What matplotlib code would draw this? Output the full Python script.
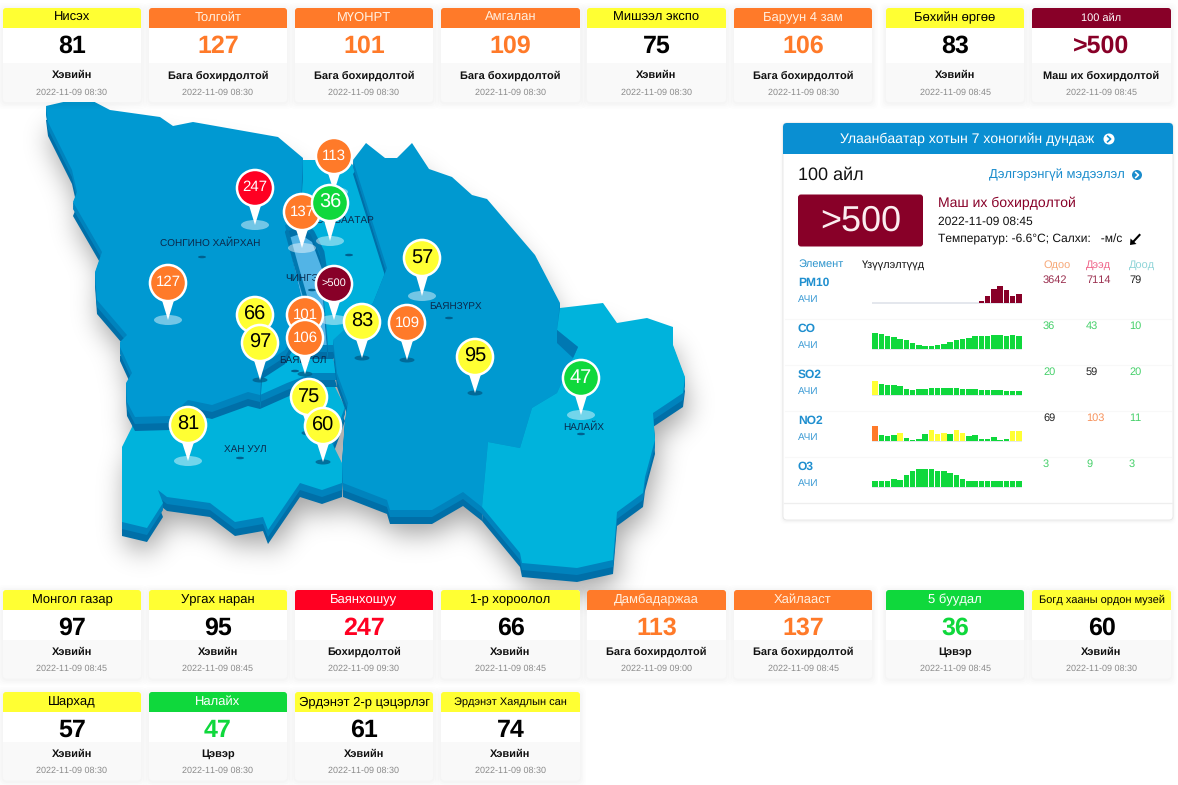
import numpy as np
import matplotlib
matplotlib.use("Agg")
import matplotlib.pyplot as plt
from matplotlib.patches import FancyBboxPatch, Rectangle, Polygon, Circle, Ellipse
from matplotlib.path import Path

plt.rcParams['font.family'] = ['Liberation Sans', 'DejaVu Sans']
plt.rcParams['text.hinting'] = 'no_hinting'
plt.rcParams['text.hinting_factor'] = 1

# ---------- station cards ----------
row1_names = ["Нисэх", "Толгойт", "МҮОНРТ", "Амгалан", "Мишээл экспо", "Баруун 4 зам", "Бөхийн өргөө", "100 айл"]
row1_values = ["81", "127", "101", "109", "75", "106", "83", ">500"]
row1_times = ["08:30", "08:30", "08:30", "08:30", "08:30", "08:30", "08:45", "08:45"]
row2_names = ["Монгол газар", "Ургах наран", "Баянхошуу", "1-р хороолол", "Дамбадаржаа", "Хайлааст", "5 буудал", "Богд хааны ордон музей"]
row2_values = ["97", "95", "247", "66", "113", "137", "36", "60"]
row2_times = ["08:45", "08:45", "09:30", "08:45", "09:00", "08:45", "08:45", "08:30"]
row3_names = ["Шархад", "Налайх", "Эрдэнэт 2-р цэцэрлэг", "Эрдэнэт Хаядлын сан"]
row3_values = ["57", "47", "61", "74"]
row3_times = ["08:30", "08:30", "08:30", "08:30"]
date_str = "2022-11-09"

# ---------- map pins: value, head x, head y, tip y, halo kind ----------
pin_values = ["247", "127", "113", "137", "36", "57", ">500", "66", "101", "97", "106", "109", "83", "95", "47", "81", "75", "60"]
pin_x = [255, 168, 334, 302, 330, 422, 334, 255, 305, 260, 305, 407, 362, 475, 581, 188, 309, 323]
pin_y = [188, 283, 156, 212, 203, 258, 284, 315, 315, 343, 338, 323, 322, 357, 378, 425, 397, 426]
pin_tip = [225, 320, 192, 248, 241, 296, 320, 351, 351, 380, 374, 360, 358, 393, 415, 461, 433, 462]
pin_halo = ["l", "l", "l", "l", "l", "l", "l", "d", "d", "d", "d", "d", "d", "d", "l", "l", "d", "d"]

# ---------- map outlines ----------
songino = [(46,106),(85,97),(110,110),(160,117),(173,126),(193,122),(278,137),(303,158),(300,220),(285,225),(293,262),(302,300),(296,330),(285,350),(262,365),(260,395),(248,392),(212,405),(188,400),(170,416),(135,417),(127,402),(126,383),(132,373),(120,347),(120,342),(127,335),(97,300),(95,272),(102,252),(73,202),(77,192),(72,170),(48,122)]
chingeltei = [(285,225),(300,220),(312,228),(322,255),(324,300),(328,345),(300,345),(302,300),(293,262)]
sukhbaatar = [(303,160),(317,160),(345,158),(353,165),(387,268),(373,303),(333,345),(328,345),(324,300),(322,255),(312,228),(300,220)]
bayangol = [(262,365),(285,350),(296,330),(328,340),(337,373),(313,373),(287,383),(260,395)]
khan_uul = [(135,417),(170,416),(188,400),(260,395),(287,383),(313,373),(333,383),(345,407),(332,443),(342,463),(342,483),(322,490),(300,483),(268,530),(263,517),(235,522),(210,503),(167,497),(158,490),(163,503),(147,528),(122,522),(122,447),(132,427)]
bayanzurkh = [(353,160),(366,143),(385,158),(397,158),(412,143),(429,169),(452,177),(472,195),(487,199),(535,255),(560,303),(557,330),(578,347),(557,393),(532,408),(520,448),(488,442),(482,507),(463,492),(432,510),(390,510),(387,500),(343,483),(342,463),(345,420),(348,403),(337,373),(333,340),(373,303),(387,268)]
nalaikh = [(560,308),(603,303),(617,323),(647,318),(673,327),(673,345),(685,377),(683,393),(653,413),(655,440),(645,477),(643,493),(617,512),(613,560),(577,568),(522,563),(520,553),(482,507),(488,442),(520,448),(532,408),(557,393),(578,347),(557,330)]
outlines = [khan_uul, bayangol, chingeltei, sukhbaatar, songino, bayanzurkh, nalaikh]
tops = ["#00b3dc", "#00b3e0", "#52b4e6", "#00b0dc", "#0099d2", "#0099d0", "#00b3dc"]
ridge = [(557,330),(578,347),(573,358),(557,343)]

label_names = ["СОНГИНО ХАЙРХАН", "БАЯНЗҮРХ", "ХАН УУЛ", "НАЛАЙХ", "СҮХБААТАР", "ЧИНГЭЛТЭЙ", "БАЯНГОЛ"]
label_x = [210.5, 455.5, 245, 584, 345, 316, 303]
label_y = [243.5, 307.5, 449.5, 427.5, 221, 278, 361.5]
dash_x = [202, 449, 240, 581, 349, 312, 295]
dash_y = [257, 318, 458, 434, 255, 290, 371]

# ---------- panel ----------
elements = ["PM10", "CO", "SO2", "NO2", "O3"]
now_vals = ["3642", "36", "20", "69", "3"]
max_vals = ["7114", "43", "59", "103", "9"]
min_vals = ["79", "10", "20", "11", "3"]
pm10_bars = [0] * 17 + [2, 7, 14, 17, 13, 7, 9]
co_bars = [16, 15, 13, 12, 10, 9, 6, 4, 3, 3, 4, 5, 7, 9, 10, 11, 13, 13, 13, 14, 14, 13, 14, 13]
so2_bars = [14, 11, 10, 10, 9, 6, 5, 6, 6, 7, 7, 7, 7, 7, 6, 6, 6, 5, 5, 5, 5, 4, 4, 4]
no2_bars = [15, 6, 5, 6, 8, 3, 1, 2, 7, 11, 7, 8, 7, 11, 8, 5, 6, 2, 2, 4, 1, 2, 10, 10]
o3_bars = [6, 6, 6, 8, 7, 12, 16, 18, 18, 18, 16, 16, 14, 12, 8, 6, 6, 6, 6, 6, 6, 6, 6, 6]
pm10_lv = "m" * 24
co_lv = "g" * 24
so2_lv = "y" + "g" * 23
no2_lv = "ogggygggg" + "yyy" + "g" + "yy" + "ggggggg" + "yy"
o3_lv = "g" * 24
series = [pm10_bars, co_bars, so2_bars, no2_bars, o3_bars]
series_lv = [pm10_lv, co_lv, so2_lv, no2_lv, o3_lv]

GREEN, YELLOW, ORANGE, RED, MAROON = "#0fd83c", "#ffff33", "#ff7a29", "#ff0022", "#880028"
LV = {"g": GREEN, "y": YELLOW, "o": ORANGE, "r": RED, "m": MAROON}
STATUS = {"g": "Цэвэр", "y": "Хэвийн", "o": "Бага бохирдолтой", "r": "Бохирдолтой", "m": "Маш их бохирдолтой"}
BLUE = "#0a8fd2"

def level(v):
    if v.startswith(">"):
        return "m"
    n = int(v)
    return "g" if n <= 50 else "y" if n <= 100 else "o" if n <= 150 else "r" if n <= 300 else "m"

W, H = 1178, 785
fig = plt.figure(figsize=(W / 100, H / 100), dpi=100, facecolor="white")
ax = fig.add_axes([0, 0, 1, 1])
ax.set_xlim(0, W); ax.set_ylim(H, 0); ax.axis("off")

# ---------- map shadow (blurred union of outlines) ----------
yy, xx = np.mgrid[0:H, 0:W]
pts = np.column_stack([xx.ravel() + 0.5, yy.ravel() + 0.5])
mask = np.zeros((H, W))
for o in outlines:
    mask = np.maximum(mask, Path(o + [o[0]]).contains_points(pts).reshape(H, W).astype(float))
mask = np.roll(mask, 24, axis=0)
mask = np.roll(mask, 3, axis=1)
ky = np.fft.fftfreq(H)[:, None]; kx = np.fft.fftfreq(W)[None, :]
sig = 13
blur = np.fft.ifft2(np.fft.fft2(mask) * np.exp(-2 * (np.pi * sig) ** 2 * (kx ** 2 + ky ** 2))).real
rgba = np.zeros((H, W, 4)); rgba[..., 3] = np.clip(blur, 0, 1) * 0.36
ax.imshow(rgba, extent=(0, W, H, 0), zorder=1, interpolation="bilinear", aspect="auto")
ax.set_xlim(0, W); ax.set_ylim(H, 0)

# ---------- map regions with extrusion ----------
def extrude(o, z):
    a = np.array(o, float)
    ax.add_patch(Polygon(a + [0, 14], closed=True, fc="#006fa8", ec="none", zorder=z))
    for dy in (1.5, 3, 4.5, 6, 7):
        ax.add_patch(Polygon(a + [0, dy], closed=True, fc="#0083bd", ec="none", zorder=z + 0.1))

z = 2
for o, c in zip(outlines[:5], tops[:5]):
    extrude(o, z)
    ax.add_patch(Polygon(o, closed=True, fc=c, ec="none", zorder=z + 0.2))
    z += 1
extrude(outlines[5], z); z += 0.5
extrude(outlines[6], z); z += 0.5
ax.add_patch(Polygon(outlines[5], closed=True, fc=tops[5], ec="none", zorder=z))
ax.add_patch(Polygon(outlines[6], closed=True, fc=tops[6], ec="none", zorder=z))
z += 1
ax.add_patch(Polygon(ridge, closed=True, fc="#0078b2", ec="none", zorder=z))
ax.plot([287, 296, 306], [232, 265, 300], color="#0078b0", lw=3, zorder=z, solid_capstyle="round")
ax.plot([312, 322, 325], [232, 252, 272], color="#0078b0", lw=3.5, zorder=z, solid_capstyle="round")
z += 1
for name, x, y, dx, dy in zip(label_names, label_x, label_y, dash_x, dash_y):
    ax.text(x, y, name, fontsize=6.9, color="#0a2a4d", ha="center", va="center", zorder=z)
    ax.add_patch(Ellipse((dx, dy), 8, 2.5, fc="#00608f", ec="none", zorder=z))
z += 1

# ---------- pins ----------
for v, x, y, t, hl in zip(pin_values, pin_x, pin_y, pin_tip, pin_halo):
    lv = level(v)
    if hl == "l":
        ax.add_patch(Ellipse((x, t), 28, 10, fc="white", alpha=0.45, ec="none", zorder=z))
    else:
        ax.add_patch(Ellipse((x, t), 15, 5, fc="#005f8c", alpha=0.8, ec="none", zorder=z))
    ax.add_patch(Polygon([(x - 7, y + 14), (x + 7, y + 14), (x, t)], closed=True, fc="white", ec="none", zorder=z + .1))
    ax.add_patch(Circle((x, y), 19.3, fc="white", ec="none", zorder=z + .2))
    ax.add_patch(Circle((x, y), 16.8, fc=LV[lv], ec="none", zorder=z + .3))
    short = len(v) == 2
    col = "black" if lv == "y" else "white"
    fs = 8 if v.startswith(">") else (14.5 if short else 11)
    ax.text(x, y - 0.5, v, fontsize=fs, color=col, ha="center", va="center", zorder=z + .4)
    z += 1
z += 1

# ---------- cards ----------
card_x0 = [3, 149, 295, 441, 587, 734, 886, 1032]
card_x1 = [141, 287, 433, 580, 726, 872, 1024, 1171]

def card(i, top, height, foot, name, value, tm, name_fs=9.6, st_off=12.0, tm_off=16.5):
    x0, x1 = card_x0[i], card_x1[i]
    w = x1 - x0
    lv = level(value)
    for g, a in zip((6, 4.5, 3, 1.5), (0.006, 0.008, 0.01, 0.012)):
        ax.add_patch(FancyBboxPatch((x0 - g, top - g + 1), w + 2 * g, height + 2 * g, boxstyle="round,pad=0,rounding_size=6",
                                    fc="black", alpha=a, ec="none", zorder=z))
    ax.add_patch(FancyBboxPatch((x0, top), w, height, boxstyle="round,pad=0,rounding_size=3", fc="#f9f9f9", ec="none", zorder=z + .1))
    ax.add_patch(Rectangle((x0, top + 12), w, foot - 12, fc="white", ec="none", zorder=z + .2))
    ax.add_patch(FancyBboxPatch((x0, top), w, 19.5, boxstyle="round,pad=0,rounding_size=3", fc=LV[lv], ec="none", zorder=z + .3))
    ax.add_patch(Rectangle((x0, top + 8), w, 11.5, fc=LV[lv], ec="none", zorder=z + .3))
    name_col = "black" if lv == "y" else ("#fff0e0" if lv == "o" else "white")
    ax.text((x0 + x1) / 2, top + 10, name, fontsize=name_fs, color=name_col, ha="center", va="center", zorder=z + .4)
    val_col = "black" if lv == "y" else LV[lv]
    ax.text((x0 + x1) / 2, top + 38.5, value, fontsize=18, fontweight="bold", color=val_col, ha="center", va="center", zorder=z + .4)
    yy1 = top + foot + st_off
    ax.text((x0 + x1) / 2, yy1, STATUS[lv], fontsize=8, fontweight="bold", color="#111111", ha="center", va="center", zorder=z + .4)
    ax.text((x0 + x1) / 2, yy1 + tm_off, f"{date_str} {tm}", fontsize=6.7, color="#8a8a8a", ha="center", va="center", zorder=z + .4)

for i in range(8):
    card(i, 8, 94, 55, row1_names[i], row1_values[i], row1_times[i], name_fs=8 if row1_names[i] == "100 айл" else 9.6, st_off=12.5, tm_off=17)
for i in range(8):
    card(i, 590, 88.5, 50, row2_names[i], row2_values[i], row2_times[i], name_fs=8 if len(row2_names[i]) > 20 else 9.6, tm_off=17)
for i in range(4):
    card(i, 692, 88.5, 50, row3_names[i], row3_values[i], row3_times[i], name_fs=8 if i == 3 else 9.6, tm_off=17)

# ---------- panel ----------
px0, px1, py0, py1 = 783, 1173, 123, 520
for g, a in zip((3, 2, 1), (0.008, 0.012, 0.02)):
    ax.add_patch(FancyBboxPatch((px0 - g, py0 - g + 1), px1 - px0 + 2 * g, py1 - py0 + 2 * g, boxstyle="round,pad=0,rounding_size=5",
                                fc="black", alpha=a, ec="none", zorder=z))
ax.add_patch(FancyBboxPatch((px0, py0), px1 - px0, py1 - py0, boxstyle="round,pad=0,rounding_size=4", fc="white", ec="#e6e6e6", lw=0.6, zorder=z + .1))
ax.add_patch(FancyBboxPatch((px0, py0), px1 - px0, 31, boxstyle="round,pad=0,rounding_size=4", fc=BLUE, ec="none", zorder=z + .2))
ax.add_patch(Rectangle((px0, py0 + 10), px1 - px0, 21, fc=BLUE, ec="none", zorder=z + .2))
tz = z + .5

def chevron(cx, cy, r, bg, fg):
    ax.add_patch(Circle((cx, cy), r, fc=bg, ec="none", zorder=tz))
    ax.plot([cx - r * .25, cx + r * .3, cx - r * .25], [cy - r * .5, cy, cy + r * .5], color=fg, lw=1.2, zorder=tz + .1)

ax.text(840, 139, "Улаанбаатар хотын 7 хоногийн дундаж", fontsize=10.4, color="white", va="center", zorder=tz)
chevron(1109, 139, 5.5, "white", BLUE)
ax.text(798, 175, "100 айл", fontsize=13, color="#111111", va="center", zorder=tz)
ax.text(989, 175, "Дэлгэрэнгүй мэдээлэл", fontsize=9.7, color="#1a8ccc", va="center", zorder=tz)
chevron(1137, 175, 5, "#1a8ccc", "white")
ax.add_patch(FancyBboxPatch((798, 194.5), 125, 52, boxstyle="round,pad=0,rounding_size=3", fc=MAROON, ec="none", zorder=tz))
ax.text(860.5, 221, ">500", fontsize=26, color="#fbeef0", ha="center", va="center", zorder=tz + .1)
ax.text(938, 203.5, "Маш их бохирдолтой", fontsize=10, color=MAROON, va="center", zorder=tz)
ax.text(938, 222, "2022-11-09 08:45", fontsize=8.7, color="#111111", va="center", zorder=tz)
ax.text(938, 239.5, "Температур: -6.6°C; Салхи:   -м/с", fontsize=8.7, color="#111111", va="center", zorder=tz)
ax.plot([1139.5, 1133], [235, 242], color="black", lw=1.5, zorder=tz)
ax.add_patch(Polygon([(1130, 245), (1130.5, 238.5), (1136.5, 244)], closed=True, fc="black", ec="none", zorder=tz))

ax.text(798, 264.5, "Элемент", fontsize=7.6, color="#2a93cc", va="center", zorder=tz)
ax.text(862, 264.5, "Үзүүлэлтүүд", fontsize=7.8, color="#111111", va="center", zorder=tz)
ax.text(1043, 264.5, "Одоо", fontsize=7.8, color="#f7a878", va="center", zorder=tz)
ax.text(1086, 264.5, "Дээд", fontsize=7.8, color="#f0668a", va="center", zorder=tz)
ax.text(1129, 264.5, "Доод", fontsize=7.8, color="#8fd4d8", va="center", zorder=tz)

def val_col(v, e):
    table = {"3642": "#9b3050", "7114": "#9b3050", "79": "#222222", "59": "#222222", "69": "#222222", "103": "#f7915a"}
    return table.get(v, "#45d06a")

for i, e in enumerate(elements):
    ry = 282.5 + 46 * i
    ax.text(798, ry, e, fontsize=8.6, fontweight="bold", color="#1f8fcf", va="center", zorder=tz)
    ax.text(798, ry + 17, "АЧИ", fontsize=7.2, color="#3a9ad4", va="center", zorder=tz)
    for x, v in zip((1043, 1086, 1129), (now_vals[i], max_vals[i], min_vals[i])):
        ax.text(x, ry - 2, v, fontsize=7.6, color=val_col(v, e), va="center", zorder=tz)
    if i < 4:
        ax.plot([px0 + 2, px1 - 2], [ry + 36, ry + 36], color="#f8f8f8", lw=0.8, zorder=tz)
ax.plot([px0 + 1, px1 - 1], [503, 503], color="#eeeeee", lw=0.9, zorder=tz)

# sparklines
spark_base = [303.5, 350, 396, 442, 488]
for vals, lv, b in zip(series, series_lv, spark_base):
    a2 = fig.add_axes([872 / W, 1 - b / H, 150 / W, 30 / H], zorder=10)
    a2.set_xlim(-0.5, 23.5); a2.set_ylim(-0.6, 29.4); a2.axis("off")
    a2.axhline(-0.1, color="#dfe3ea", lw=1.2, zorder=1)
    a2.bar(range(24), vals, width=0.9, color=[LV[c] for c in lv[:24]], zorder=2)

fig.savefig("out.png", dpi=100)
